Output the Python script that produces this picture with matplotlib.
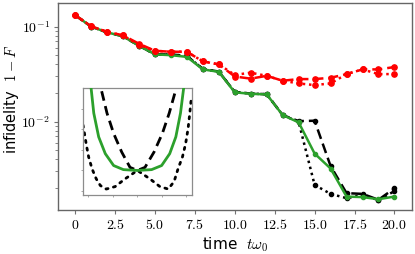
import matplotlib
matplotlib.use("Agg")
import matplotlib.pyplot as plt

plt.rcParams['mathtext.fontset'] = 'cm'
plt.rcParams['font.family'] = ['DejaVu Sans']

# ---- main data ----
t = list(range(21))
red_dashed = [0.132, 0.101, 0.088, 0.081, 0.066, 0.0556, 0.0543, 0.0543, 0.043, 0.040,
              0.0298, 0.0283, 0.0303, 0.0269, 0.0280, 0.0280, 0.0289, 0.0316, 0.0354, 0.0354, 0.0375]
red_dotted = [0.132, 0.101, 0.088, 0.081, 0.064, 0.0556, 0.0543, 0.0543, 0.043, 0.040,
              0.0310, 0.0327, 0.0303, 0.0269, 0.0252, 0.0242, 0.0252, 0.0316, 0.0354, 0.0316, 0.0316]
green_solid = [0.132, 0.100, 0.087, 0.079, 0.063, 0.051, 0.050, 0.048, 0.0354, 0.0334,
               0.0203, 0.0196, 0.0193, 0.0117, 0.0098, 0.0046, 0.0032, 0.00162, 0.0016, 0.00152, 0.00162]
black_dashed = [0.132, 0.100, 0.087, 0.079, 0.063, 0.051, 0.051, 0.049, 0.0358, 0.0336,
                0.0205, 0.0197, 0.0194, 0.0117, 0.0101, 0.0102, 0.0034, 0.00176, 0.00173, 0.00150, 0.00198]
black_dotted = [0.132, 0.100, 0.087, 0.079, 0.063, 0.051, 0.051, 0.049, 0.0358, 0.0336,
                0.0205, 0.0197, 0.0194, 0.0117, 0.0099, 0.00215, 0.00173, 0.00156, 0.00168, 0.00149, 0.00185]

xtick_vals = [0, 2.5, 5.0, 7.5, 10.0, 12.5, 15.0, 17.5, 20.0]
xtick_labels = ['$0$', '$2.5$', '$5.0$', '$7.5$', '$10.0$', '$12.5$', '$15.0$', '$17.5$', '$20.0$']
ytick_vals = [1e-2, 1e-1]
ytick_labels = ['$10^{-2}$', '$10^{-1}$']

# ---- inset data (inset axis units) ----
in_green_u = [-1.95, -1.89, -1.78, -1.58, -1.31, -0.97, -0.57, 0.0, 0.58, 0.99, 1.32, 1.57, 1.76, 1.89, 1.95]
in_green_v = [5.6, 5.02, 3.79, 2.63, 1.81, 1.23, 1.03, 0.99, 1.03, 1.23, 1.81, 2.63, 3.79, 5.02, 5.6]
in_dash_u = [-1.55, -1.49, -1.24, -0.97, -0.64, -0.30, 0.0, 0.31, 0.68, 1.02, 1.30, 1.53, 1.58]
in_dash_v = [5.6, 5.02, 3.79, 2.80, 1.89, 1.14, 0.99, 1.14, 1.89, 2.80, 3.79, 4.77, 5.6]
in_dot_u = [-2.22, -2.16, -2.08, -1.99, -1.85, -1.68, -1.51, -1.27, -0.91, -0.50, 0.0, 0.51, 0.92, 1.26,
            1.50, 1.66, 1.84, 1.97, 2.07, 2.14, 2.20]
in_dot_v = [3.21, 2.80, 2.22, 1.65, 1.07, 0.58, 0.25, 0.08, 0.20, 0.58, 0.99, 0.58, 0.20, 0.08,
            0.45, 1.07, 1.65, 2.30, 3.04, 3.79, 4.50]
inset_xticks = [-2, -1, 0, 1, 2]
inset_yticks = [0, 1, 2, 3, 4]

fig = plt.figure(figsize=(4.15, 2.54), dpi=100)
ax = fig.add_axes([0.1398, 0.1732, 0.8530, 0.8148])

ax.plot(t, black_dashed, color='black', ls=(0, (4, 2)), lw=1.8, marker='o', ms=3, zorder=2)
ax.plot(t, black_dotted, color='black', ls=(0, (1, 1.5)), lw=1.8, marker='o', ms=3, zorder=2)
ax.plot(t, green_solid, color='#2ca02c', ls='-', lw=1.8, marker='o', ms=3, zorder=3)
ax.plot(t, red_dashed, color='#ff0000', ls=(0, (4, 2)), lw=1.8, marker='o', ms=3.8, zorder=4)
ax.plot(t, red_dotted, color='#ff0000', ls=(0, (1, 1.5)), lw=1.8, marker='o', ms=3.8, zorder=4)

ax.set_yscale('log')
ax.set_xlim(-1.07, 21.1)
ax.set_ylim(1.17e-3, 0.177)
ax.set_xticks(xtick_vals)
ax.set_xticklabels(xtick_labels, fontsize=10)
ax.set_yticks(ytick_vals)
ax.set_yticklabels(ytick_labels, fontsize=10)
ax.tick_params(which='both', color='0.45', direction='out')
ax.tick_params(which='major', length=3, width=0.8, pad=3)
ax.tick_params(which='minor', length=2, width=0.6)
for s in ax.spines.values():
    s.set_color('0.4')
    s.set_linewidth(1.0)
ax.set_xlabel(r'time  $t\omega_0$', fontsize=11, labelpad=2)
ax.set_ylabel(r'infidelity  $1-F$', fontsize=10.5)
ax.yaxis.set_label_coords(-0.105, 0.535)

# inset
ins = fig.add_axes([83 / 415, 1 - 195 / 254, 109 / 415, 107 / 254])
ins.plot(in_green_u, in_green_v, color='#2ca02c', lw=2.0, zorder=3)
ins.plot(in_dash_u, in_dash_v, color='black', lw=2.0, ls=(0, (3.5, 2)), zorder=2)
ins.plot(in_dot_u, in_dot_v, color='black', lw=2.0, ls=(0, (0.8, 2)), dash_capstyle='round', zorder=2)
ins.set_xlim(-2.22, 2.23)
ins.set_ylim(-0.21, 5.02)
ins.set_xticks(inset_xticks)
ins.set_yticks(inset_yticks)
ins.set_xticklabels([])
ins.set_yticklabels([])
ins.tick_params(length=1.5, width=0.6, color='0.6')
for s in ins.spines.values():
    s.set_color('0.55')
    s.set_linewidth(0.9)

fig.savefig('out.png', dpi=100)
